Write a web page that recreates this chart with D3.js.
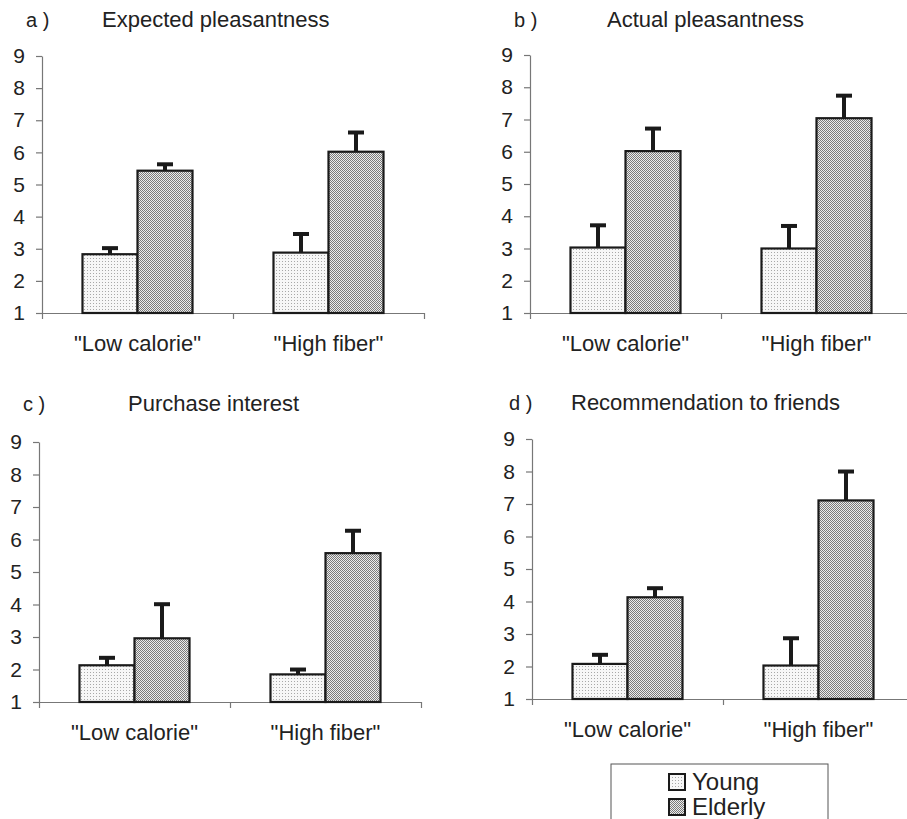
<!DOCTYPE html>
<html>
<head>
<meta charset="utf-8">
<script src="https://cdn.jsdelivr.net/npm/d3@7"></script>
<style>
  body { margin: 0; background: #fff; }
  svg { display: block; font-family: "Liberation Sans", Arial, sans-serif; }
  .axis path, .axis line { stroke: #777; stroke-width: 1.2; }
  .axis text { fill: #222; font-size: 21px; font-family: "Liberation Sans", Arial, sans-serif; }
</style>
</head>
<body>
<div id="chart"></div>
<script>
var w = 907;
var h = 819;

// categories and groups
var categories = ['"Low calorie"', '"High fiber"'];
var groups = ["Young", "Elderly"];
var yTicks = [1, 2, 3, 4, 5, 6, 7, 8, 9];

// panel titles
var letters = ["a )", "b )", "c )", "d )"];
var titles = ["Expected pleasantness", "Actual pleasantness", "Purchase interest", "Recommendation to friends"];

// means per panel, [Low calorie, High fiber]
var youngMeans = [[2.83, 2.88], [3.03, 3.00], [2.13, 1.85], [2.08, 2.03]];
var elderlyMeans = [[5.43, 6.02], [6.02, 7.04], [2.96, 5.58], [4.13, 7.11]];
// error bar lengths (upper only)
var youngErr = [[0.22, 0.61], [0.72, 0.73], [0.26, 0.18], [0.31, 0.87]];
var elderlyErr = [[0.23, 0.63], [0.73, 0.73], [1.08, 0.72], [0.31, 0.92]];

// panel layout (pixels)
var panels = [
  { x0: 42, x1: 424, yTop: 56, yBot: 313, lx: 26, tx: 102, ty: 27 },
  { x0: 530, x1: 914, yTop: 55, yBot: 313, lx: 514, tx: 607, ty: 27 },
  { x0: 39, x1: 421, yTop: 442, yBot: 702, lx: 23, tx: 128, ty: 411 },
  { x0: 532, x1: 916, yTop: 439, yBot: 699, lx: 509, tx: 571, ty: 410 }
];

var svg = d3.select("#chart")
  .append("svg")
  .attr("width", w)
  .attr("height", h);

// fill patterns for the two groups
var defs = svg.append("defs");

var pYoung = defs.append("pattern")
  .attr("id", "pat-young")
  .attr("patternUnits", "userSpaceOnUse")
  .attr("width", 3).attr("height", 3);
pYoung.append("rect").attr("width", 3).attr("height", 3).attr("fill", "#f7f7f7");
pYoung.append("rect").attr("width", 1).attr("height", 1).attr("fill", "#a8a8a8");

var pOld = defs.append("pattern")
  .attr("id", "pat-elderly")
  .attr("patternUnits", "userSpaceOnUse")
  .attr("width", 2).attr("height", 2);
pOld.append("rect").attr("width", 2).attr("height", 2).attr("fill", "#ececec");
pOld.append("rect").attr("width", 1).attr("height", 1).attr("fill", "#7a7a7a");
pOld.append("rect").attr("x", 1).attr("y", 1).attr("width", 1).attr("height", 1).attr("fill", "#7a7a7a");

var fills = { Young: "url(#pat-young)", Elderly: "url(#pat-elderly)" };

panels.forEach(function (p, i) {
  var g = svg.append("g");

  var yScale = d3.scaleLinear().domain([1, 9]).range([p.yBot, p.yTop]);

  var xCat = d3.scaleBand()
    .domain(categories)
    .range([p.x0, p.x0 + 2 * 191])
    .paddingInner(0).paddingOuter(0);

  var xGroup = d3.scaleBand()
    .domain(groups)
    .range([0, xCat.bandwidth()])
    .paddingInner(0)
    .paddingOuter(0.736);

  var xEdge = d3.scaleLinear().domain([0, 2]).range([p.x0, p.x0 + 2 * 191]);

  // y axis
  g.append("g")
    .attr("class", "axis")
    .attr("transform", "translate(" + p.x0 + ",0)")
    .call(d3.axisLeft(yScale).tickValues(yTicks).tickSize(6).tickSizeOuter(0).tickPadding(11).tickFormat(d3.format("d")));

  // x axis with ticks between categories
  g.append("g")
    .attr("class", "axis")
    .attr("transform", "translate(0," + p.yBot + ")")
    .call(d3.axisBottom(xEdge).tickValues([0, 1, 2]).tickSize(6).tickSizeOuter(0).tickFormat(""));

  var rows = [];
  categories.forEach(function (c, ci) {
    rows.push({ cat: c, group: "Young", v: youngMeans[i][ci], e: youngErr[i][ci] });
    rows.push({ cat: c, group: "Elderly", v: elderlyMeans[i][ci], e: elderlyErr[i][ci] });
  });

  // bars
  g.selectAll("rect.bar")
    .data(rows)
    .join("rect")
    .attr("class", "bar")
    .attr("x", function (d) { return xCat(d.cat) + xGroup(d.group); })
    .attr("y", function (d) { return yScale(d.v); })
    .attr("width", xGroup.bandwidth())
    .attr("height", function (d) { return yScale(1) - yScale(d.v); })
    .attr("fill", function (d) { return fills[d.group]; })
    .attr("stroke", "#1a1a1a")
    .attr("stroke-width", 2.2);

  // error bars (upper half only)
  var cx = function (d) { return xCat(d.cat) + xGroup(d.group) + xGroup.bandwidth() / 2; };

  g.selectAll("line.err")
    .data(rows)
    .join("line")
    .attr("class", "err")
    .attr("x1", cx).attr("x2", cx)
    .attr("y1", function (d) { return yScale(d.v); })
    .attr("y2", function (d) { return yScale(d.v + d.e); })
    .attr("stroke", "#1a1a1a")
    .attr("stroke-width", 4);

  g.selectAll("line.cap")
    .data(rows)
    .join("line")
    .attr("class", "cap")
    .attr("x1", function (d) { return cx(d) - 8; })
    .attr("x2", function (d) { return cx(d) + 8; })
    .attr("y1", function (d) { return yScale(d.v + d.e) + 1; })
    .attr("y2", function (d) { return yScale(d.v + d.e) + 1; })
    .attr("stroke", "#1a1a1a")
    .attr("stroke-width", 4);

  // category labels
  g.selectAll("text.cat")
    .data(categories)
    .join("text")
    .attr("class", "cat")
    .attr("x", function (d) { return xCat(d) + xCat.bandwidth() / 2; })
    .attr("y", p.yBot + 38)
    .attr("text-anchor", "middle")
    .attr("font-size", 22)
    .attr("fill", "#222")
    .text(function (d) { return d; });

  // panel letter and title
  g.append("text")
    .attr("x", p.lx).attr("y", p.ty)
    .attr("font-size", 20)
    .attr("fill", "#222")
    .text(letters[i]);

  g.append("text")
    .attr("x", p.tx).attr("y", p.ty)
    .attr("font-size", 22)
    .attr("fill", "#222")
    .text(titles[i]);
});

// legend
var legend = svg.append("g");

legend.append("rect")
  .attr("x", 611).attr("y", 764)
  .attr("width", 217).attr("height", 80)
  .attr("fill", "#fff")
  .attr("stroke", "#555")
  .attr("stroke-width", 1);

legend.selectAll("rect.key")
  .data(groups)
  .join("rect")
  .attr("class", "key")
  .attr("x", 669)
  .attr("y", function (d, k) { return 774 + k * 25; })
  .attr("width", 16).attr("height", 16)
  .attr("fill", function (d) { return fills[d]; })
  .attr("stroke", "#1a1a1a")
  .attr("stroke-width", 2);

legend.selectAll("text.key")
  .data(groups)
  .join("text")
  .attr("class", "key")
  .attr("x", 692)
  .attr("y", function (d, k) { return 790 + k * 25; })
  .attr("font-size", 24)
  .attr("fill", "#222")
  .text(function (d) { return d; });
</script>
</body>
</html>
